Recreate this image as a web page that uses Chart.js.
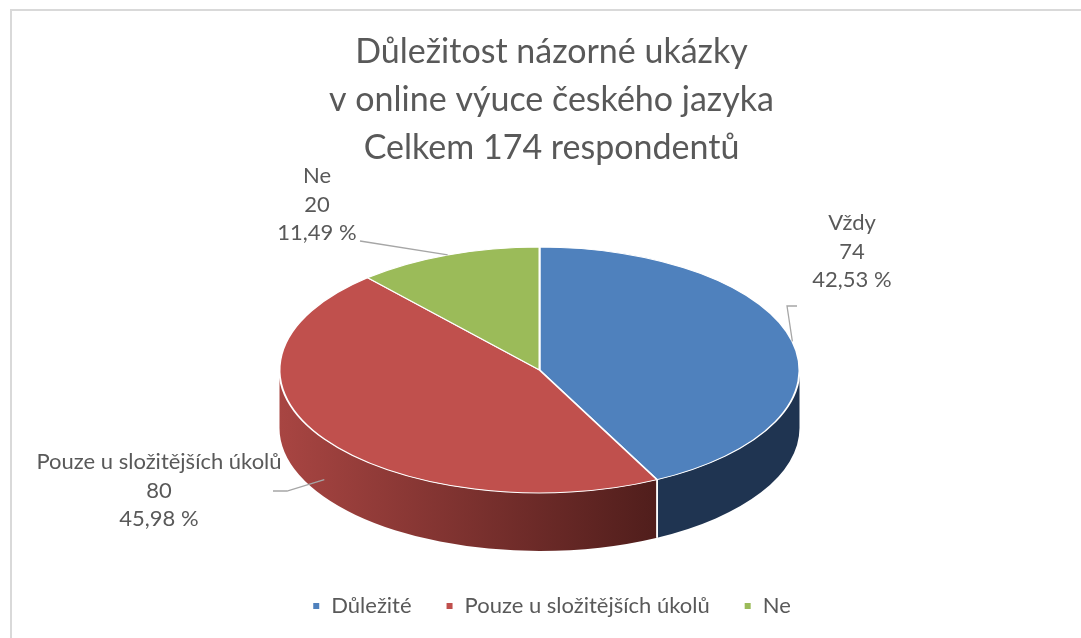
<!DOCTYPE html>
<html><head><meta charset="utf-8">
<script src="https://cdn.jsdelivr.net/npm/chart.js@4"></script>
<style>html,body{margin:0;padding:0;background:#fff}#wrap{width:1081px;height:638px;position:relative}</style>
</head><body><div id="wrap"><canvas id="c"></canvas></div>
<script>
// ---- data ----
const categories = ['Důležité', 'Pouze u složitějších úkolů', 'Ne'];
const sliceLabelNames = ['Vždy', 'Pouze u složitějších úkolů', 'Ne'];
const counts = [74, 80, 20];
const titleLines = ['Důležitost názorné ukázky', 'v online výuce českého jazyka', 'Celkem 174 respondentů'];

// ---- styles / layout ----
const topColors = ['#4f81bd', '#c0504d', '#9bbb59'];
const sideColors = [['#1f3451', '#1f3451'], ['#a84542', '#4a1b19'], ['#6b8a3a', '#4d6429']];
const TEXT = '#595959';
const FONT = 'Lato, "Open Sans", sans-serif';
const K = 0.473, DEPTH = 58, CX = 539.5, CY = 370;
const labelLayout = [
  {x: 852, y: 223, pts: [[787, 306], [797, 306]]},
  {x: 159, y: 462, pts: [[287, 491], [273, 491]]},
  {x: 317, y: 176, pts: [[360, 241]]}
];
const total = counts.reduce((a, b) => a + b, 0);
const pct = v => (v / total * 100).toFixed(2).replace('.', ',') + ' %';

const borderPlugin = {
  id: 'frame',
  beforeDraw(chart) {
    const ctx = chart.ctx;
    ctx.save();
    ctx.fillStyle = '#fff';
    ctx.fillRect(0, 0, chart.width, chart.height);
    ctx.strokeStyle = '#d9d9d9';
    ctx.lineWidth = 2;
    ctx.beginPath();
    ctx.moveTo(11, chart.height);
    ctx.lineTo(11, 10);
    ctx.lineTo(chart.width, 10);
    ctx.stroke();
    ctx.restore();
  }
};

function visibleParts(a0, a1) {
  const out = [];
  [[0, Math.PI], [2 * Math.PI, 3 * Math.PI]].forEach(([lo, hi]) => {
    const b0 = Math.max(a0, lo), b1 = Math.min(a1, hi);
    if (b1 > b0) out.push([b0, b1]);
  });
  return out;
}

const pie3d = {
  id: 'pie3d',
  beforeDatasetsDraw(chart) {
    const ctx = chart.ctx;
    const meta = chart.getDatasetMeta(0);
    ctx.save();
    const splits = [];
    meta.data.forEach((arc, i) => {
      const r = arc.outerRadius, ry = r * K;
      visibleParts(arc.startAngle, arc.endAngle).forEach(([b0, b1]) => {
        ctx.beginPath();
        ctx.ellipse(CX, CY, r, ry, 0, b0, b1);
        ctx.ellipse(CX, CY + DEPTH, r, ry, 0, b1, b0, true);
        ctx.closePath();
        const g = ctx.createLinearGradient(CX - r, 0, CX + r * 0.55, 0);
        g.addColorStop(0, sideColors[i][0]);
        g.addColorStop(1, sideColors[i][1]);
        ctx.fillStyle = g;
        ctx.fill();
        [b0, b1].forEach(b => { if (b > 0.001 && b < Math.PI - 0.001) splits.push(b); });
      });
    });
    ctx.strokeStyle = '#fff';
    ctx.lineWidth = 1.5;
    splits.forEach(b => {
      const r = meta.data[0].outerRadius;
      const x = CX + r * Math.cos(b), y = CY + r * K * Math.sin(b);
      ctx.beginPath(); ctx.moveTo(x, y); ctx.lineTo(x, y + DEPTH); ctx.stroke();
    });
    const a = meta.data[0];
    ctx.translate(CX, CY);
    ctx.scale(1, K);
    ctx.translate(-a.x, -a.y);
  },
  afterDatasetsDraw(chart) {
    chart.ctx.restore();
  },
  afterDraw(chart) {
    const ctx = chart.ctx;
    const meta = chart.getDatasetMeta(0);
    ctx.save();
    ctx.font = '22px ' + FONT;
    ctx.fillStyle = TEXT;
    ctx.textAlign = 'center';
    ctx.textBaseline = 'middle';
    meta.data.forEach((arc, i) => {
      const L = labelLayout[i];
      const lines = [sliceLabelNames[i], String(counts[i]), pct(counts[i])];
      lines.forEach((t, j) => ctx.fillText(t, L.x, L.y + j * 28.5));
      const mid = (arc.startAngle + arc.endAngle) / 2;
      const r = arc.outerRadius;
      let ax = CX + r * Math.cos(mid), ay = CY + r * K * Math.sin(mid);
      if (Math.sin(mid) > 0) ay += DEPTH * 0.7;
      ctx.strokeStyle = '#a6a6a6';
      ctx.lineWidth = 1.3;
      ctx.beginPath();
      ctx.moveTo(ax, ay);
      L.pts.forEach(p => ctx.lineTo(p[0], p[1]));
      ctx.stroke();
    });
    ctx.restore();
  }
};

new Chart(document.getElementById('c'), {
  type: 'pie',
  data: {
    labels: categories,
    datasets: [{
      data: counts,
      backgroundColor: topColors,
      borderColor: '#ffffff',
      borderWidth: 2,
      clip: false
    }]
  },
  options: {
    responsive: true,
    maintainAspectRatio: false,
    animation: false,
    events: [],
    radius: 260,
    layout: {padding: {left: 22, right: 0, top: 10, bottom: 11}},
    plugins: {
      tooltip: {enabled: false},
      title: {
        display: true,
        text: titleLines,
        color: TEXT,
        font: {family: FONT, size: 34, weight: 'normal', lineHeight: 1.412},
        padding: {top: 18, bottom: 0}
      },
      legend: {
        position: 'bottom',
        labels: {
          usePointStyle: true,
          pointStyle: 'rect',
          boxWidth: 8,
          boxHeight: 8,
          padding: 34,
          color: TEXT,
          font: {family: FONT, size: 22}
        }
      }
    }
  },
  plugins: [borderPlugin, pie3d]
});
</script>
</body></html>
